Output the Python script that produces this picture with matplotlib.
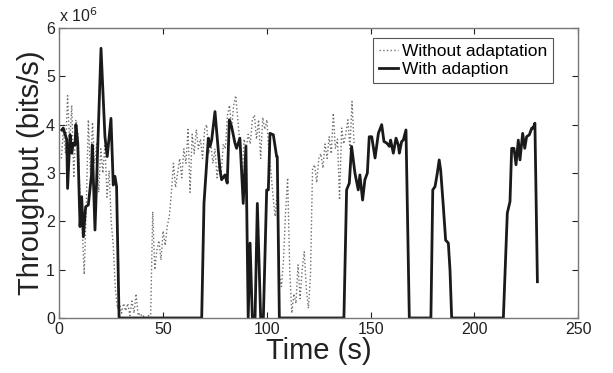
import numpy as np
import matplotlib
matplotlib.use('Agg')
import matplotlib.pyplot as plt

# Throughput values in units of 1e6 bits/s
t_without = list(range(1, 143))
v_without = [
    3.3, 3.9, 3.4, 4.6, 3.6, 4.4, 2.9, 4.1, 3.8, 2.5,
    1.9, 0.9, 2.3, 4.1, 3.0, 4.05, 3.2, 3.6, 2.6, 3.5,
    3.0, 3.6, 2.5, 3.05, 2.0, 1.5, 0.6, 0.2, 0.3, 0.1,
    0.3, 0.15, 0.3, 0.05, 0.35, 0.1, 0.5, 0.05, 0.1, 0.02,
    0.05, 0.0, 0.05, 0.0, 2.2, 1.0, 1.4, 1.6, 1.2, 1.8,
    1.5, 1.9, 2.1, 2.6, 3.2, 2.7, 3.0, 3.3, 2.9, 3.5,
    3.2, 3.9, 2.6, 3.8, 3.4, 3.9, 3.5, 3.7, 3.3, 3.9,
    4.0, 3.4, 3.6, 3.2, 3.5, 2.9, 3.3, 3.0, 3.6, 3.5,
    4.2, 4.4, 3.9, 4.4, 4.6, 4.1, 3.6, 2.9, 3.7, 3.5,
    3.8, 3.6, 4.1, 4.2, 3.7, 4.1, 3.3, 4.15, 3.9, 4.1,
    3.4, 3.0, 2.5, 2.1, 2.6, 0.9, 0.65, 1.2, 2.2, 2.9,
    1.0, 0.1, 0.5, 0.3, 1.1, 0.4, 1.0, 1.37, 0.6, 0.2,
    0.9, 3.1, 3.17, 2.8, 3.3, 3.4, 3.1, 3.6, 3.3, 3.75,
    3.4, 4.24, 3.5, 3.7, 2.44, 3.93, 3.6, 3.8, 4.1, 3.5,
    4.48, 3.6,
]

t_with = [
    1.2, 1.9, 3.6, 4.0, 5.2, 6.0, 6.7, 7.6, 8.0, 8.9,
    10.0, 10.8, 11.6, 12.7, 14.0, 15.6, 15.9, 17.2, 18.8, 20.1,
    22.0, 23.1, 24.9, 26.0, 26.8, 27.6, 28.8,
    68.6, 69.7, 71.8, 72.6, 73.4, 75.0, 77.4, 78.2, 79.8, 80.9,
    81.9, 83.0, 84.6, 85.4, 87.0, 88.6, 89.9, 91.0, 91.9, 93.0,
    94.3, 95.4, 97.0, 98.3, 99.9, 100.7, 101.5, 103.1, 104.7, 105.0,
    106.0,
    137.1, 138.4, 139.7, 140.8, 142.4, 144.0, 144.8, 146.1, 147.2, 148.4,
    149.3, 150.5, 152.1, 153.7, 155.3, 156.4, 157.7, 159.0, 159.6, 160.9,
    162.2, 163.3, 163.8, 164.9, 165.7, 167.0, 168.6,
    179.0, 179.9, 181.0, 182.1, 183.0, 183.7, 185.0, 186.1, 187.4, 188.2,
    189.0,
    213.9, 215.8, 217.1, 217.9, 219.0, 220.0, 221.1, 221.9, 223.2, 224.2,
    225.1, 226.4, 227.6, 228.3, 229.1, 230.3,
]
v_with = [
    3.89, 3.93, 3.69, 2.68, 3.79, 3.41, 3.62, 3.58, 4.0, 3.62,
    1.89, 2.51, 1.68, 2.30, 2.34, 3.0, 3.58, 1.82, 3.89, 5.58,
    3.75, 3.34, 4.13, 2.75, 2.93, 2.72, 0.0,
    0.0, 2.37, 3.72, 3.55, 3.68, 4.27, 3.06, 2.86, 2.96, 2.79,
    4.1, 3.96, 3.62, 3.51, 3.72, 2.37, 3.55, 0.0, 1.55, 0.0,
    0.0, 2.37, 0.0, 0.0, 2.65, 2.65, 3.82, 3.79, 3.34, 3.34,
    0.0,
    0.0, 2.65, 2.79, 3.55, 3.0, 2.65, 2.96, 2.44, 2.86, 3.0,
    3.75, 3.75, 3.31, 3.82, 4.0, 3.65, 3.62, 3.55, 3.68, 3.41,
    3.72, 3.58, 3.41, 3.65, 3.68, 3.89, 0.0,
    0.0, 2.65, 2.72, 3.0, 3.27, 3.06, 2.30, 1.61, 1.55, 0.99,
    0.0,
    0.0, 2.17, 2.41, 3.51, 3.51, 3.17, 3.68, 3.27, 3.82, 3.51,
    3.75, 3.79, 3.93, 3.93, 4.03, 0.75,
]

x_ticks = [0, 50, 100, 150, 200, 250]
y_ticks = [0, 1, 2, 3, 4, 5, 6]

plt.rcParams['font.family'] = ['Liberation Sans', 'DejaVu Sans']

fig = plt.figure(figsize=(6.13, 3.73), dpi=100)
ax = fig.add_axes([0.0967, 0.1475, 0.8467, 0.7775])

ax.plot(t_without, np.array(v_without) * 1e6, linestyle=':', color='#6e6e6e',
        linewidth=1.0, label='Without adaptation')
# the zero stretches of the adapted run are drawn as flat segments
ax.plot(t_with, np.array(v_with) * 1e6, linestyle='-', color='#1a1a1a',
        linewidth=2.0, label='With adaption')

ax.set_xlim(0, 250)
ax.set_ylim(0, 6e6)
ax.set_xticks(x_ticks)
ax.set_yticks([y * 1e6 for y in y_ticks])
ax.set_yticklabels([str(y) for y in y_ticks])
ax.tick_params(direction='in', length=4, width=0.8, top=True, right=True,
               labelsize=11.5, colors='#222222', pad=3)
for s in ax.spines.values():
    s.set_color('#777777')
    s.set_linewidth(1.0)

ax.set_xlabel('Time (s)', fontsize=21, labelpad=0, color='#222222')
ax.set_ylabel('Throughput (bits/s)', fontsize=21, labelpad=1, color='#222222')

ax.text(0.0, 1.01, r'x 10$^{6}$', transform=ax.transAxes, fontsize=11.5,
        ha='left', va='bottom', color='#222222')

leg = ax.legend(loc='upper right', bbox_to_anchor=(0.951, 0.966), fontsize=12.5,
                frameon=True, fancybox=False, framealpha=1, handlelength=1.1,
                handletextpad=0.2, borderpad=0.35, labelspacing=0.15,
                borderaxespad=0)
leg.get_frame().set_edgecolor('#555555')
leg.get_frame().set_linewidth(0.8)

fig.savefig('out.png', dpi=100)
